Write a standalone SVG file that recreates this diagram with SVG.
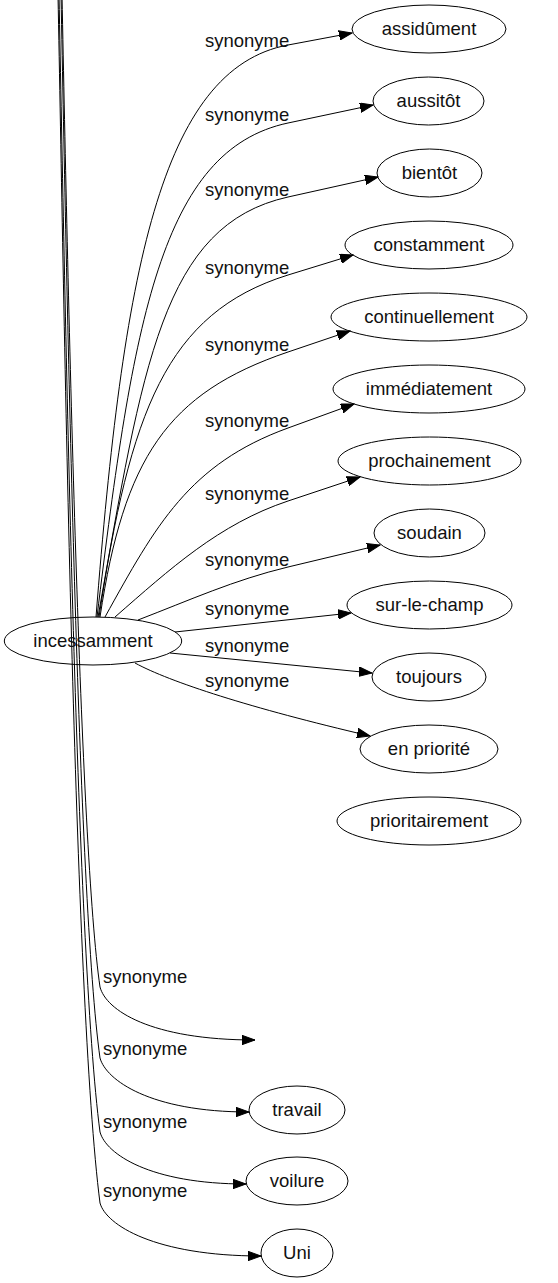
<svg xmlns="http://www.w3.org/2000/svg" width="558" height="1283" viewBox="0 0 558 1283">
<style>
.n ellipse{fill:none;stroke:#000;stroke-width:1}
.n text,.lbl{font-family:"Liberation Sans",Arial,sans-serif;font-size:18.5px;fill:#111}
.n text{text-anchor:middle}
.e path{fill:none;stroke:#000;stroke-width:1;marker-end:url(#arr)}
</style>
<defs>
<marker id="arr" markerWidth="14" markerHeight="10" refX="13" refY="5" orient="auto" markerUnits="userSpaceOnUse">
<path d="M0,0.3 L13,5 L0,9.7 z" fill="#000" stroke="#000" stroke-width="1"/>
</marker>
</defs>
<g id="edges" class="e">
<path d="M96,617 C123,274 160,69 288,45 L352,33"/>
<path d="M97,617 C133,321 161,150 288,123 L373,105"/>
<path d="M98,617 C143,365 162,225 288,197 L378,177"/>
<path d="M99,617 C130,412 166,313 288,275 L353,255"/>
<path d="M100,617 C124,458 167,393 288,352 L350,331"/>
<path d="M105,617 C156,525 189,464 288,428 L354,404"/>
<path d="M115,617 C170,569 219,524 288,501 L360,477"/>
<path d="M138,620 C190,600 234,580 288,567 L380,545"/>
<path d="M175,632 L351,613"/>
<path d="M170,653 L372,673"/>
<path d="M135,663 C170,682 250,708 370,736"/>
<path d="M62,-5 C68,300 80,850 100,987 C106,1010 150,1040 255,1040"/>
<path d="M61,-5 C67,300 78,900 100,1058 C106,1080 150,1112 249,1112"/>
<path d="M59,-5 C65,300 76,950 100,1132 C106,1154 150,1184 246,1184"/>
<path d="M58,-5 C64,300 74,1000 100,1203 C106,1225 155,1256 261,1256"/>
</g>
<g id="edge-labels">
<text class="lbl" x="205" y="47">synonyme</text>
<text class="lbl" x="205" y="121">synonyme</text>
<text class="lbl" x="205" y="196">synonyme</text>
<text class="lbl" x="205" y="274">synonyme</text>
<text class="lbl" x="205" y="351">synonyme</text>
<text class="lbl" x="205" y="427">synonyme</text>
<text class="lbl" x="205" y="500">synonyme</text>
<text class="lbl" x="205" y="566">synonyme</text>
<text class="lbl" x="205" y="615">synonyme</text>
<text class="lbl" x="205" y="652">synonyme</text>
<text class="lbl" x="205" y="687">synonyme</text>
<text class="lbl" x="103" y="983">synonyme</text>
<text class="lbl" x="103" y="1055">synonyme</text>
<text class="lbl" x="103" y="1128">synonyme</text>
<text class="lbl" x="103" y="1197">synonyme</text>
</g>
<g id="incessamment" class="n"><ellipse cx="93" cy="641" rx="88.7" ry="24"/><text x="93" y="647">incessamment</text></g>
<g id="assidument" class="n"><ellipse cx="429" cy="29" rx="77" ry="24"/><text x="429" y="35">assidûment</text></g>
<g id="aussitot" class="n"><ellipse cx="428.5" cy="101" rx="55.5" ry="24"/><text x="428.5" y="107">aussitôt</text></g>
<g id="bientot" class="n"><ellipse cx="429.5" cy="173" rx="52.5" ry="24"/><text x="429.5" y="179">bientôt</text></g>
<g id="constamment" class="n"><ellipse cx="429" cy="245" rx="84" ry="24"/><text x="429" y="251">constamment</text></g>
<g id="continuellement" class="n"><ellipse cx="429" cy="317" rx="98" ry="24"/><text x="429" y="323">continuellement</text></g>
<g id="immediatement" class="n"><ellipse cx="429" cy="389" rx="96" ry="24"/><text x="429" y="395">immédiatement</text></g>
<g id="prochainement" class="n"><ellipse cx="429.5" cy="461" rx="91.5" ry="24"/><text x="429.5" y="467">prochainement</text></g>
<g id="soudain" class="n"><ellipse cx="429.5" cy="533" rx="55.5" ry="24"/><text x="429.5" y="539">soudain</text></g>
<g id="sur-le-champ" class="n"><ellipse cx="429.5" cy="605" rx="82.5" ry="24"/><text x="429.5" y="611">sur-le-champ</text></g>
<g id="toujours" class="n"><ellipse cx="429" cy="677" rx="57" ry="24"/><text x="429" y="683">toujours</text></g>
<g id="en-priorite" class="n"><ellipse cx="429" cy="749" rx="69" ry="24"/><text x="429" y="755">en priorité</text></g>
<g id="prioritairement" class="n"><ellipse cx="429" cy="821" rx="92" ry="24"/><text x="429" y="827">prioritairement</text></g>
<g id="travail" class="n"><ellipse cx="297" cy="1110" rx="48" ry="24"/><text x="297" y="1116">travail</text></g>
<g id="voilure" class="n"><ellipse cx="297" cy="1181" rx="51" ry="24"/><text x="297" y="1187">voilure</text></g>
<g id="uni" class="n"><ellipse cx="297" cy="1253" rx="36" ry="24"/><text x="297" y="1259">Uni</text></g>
</svg>
